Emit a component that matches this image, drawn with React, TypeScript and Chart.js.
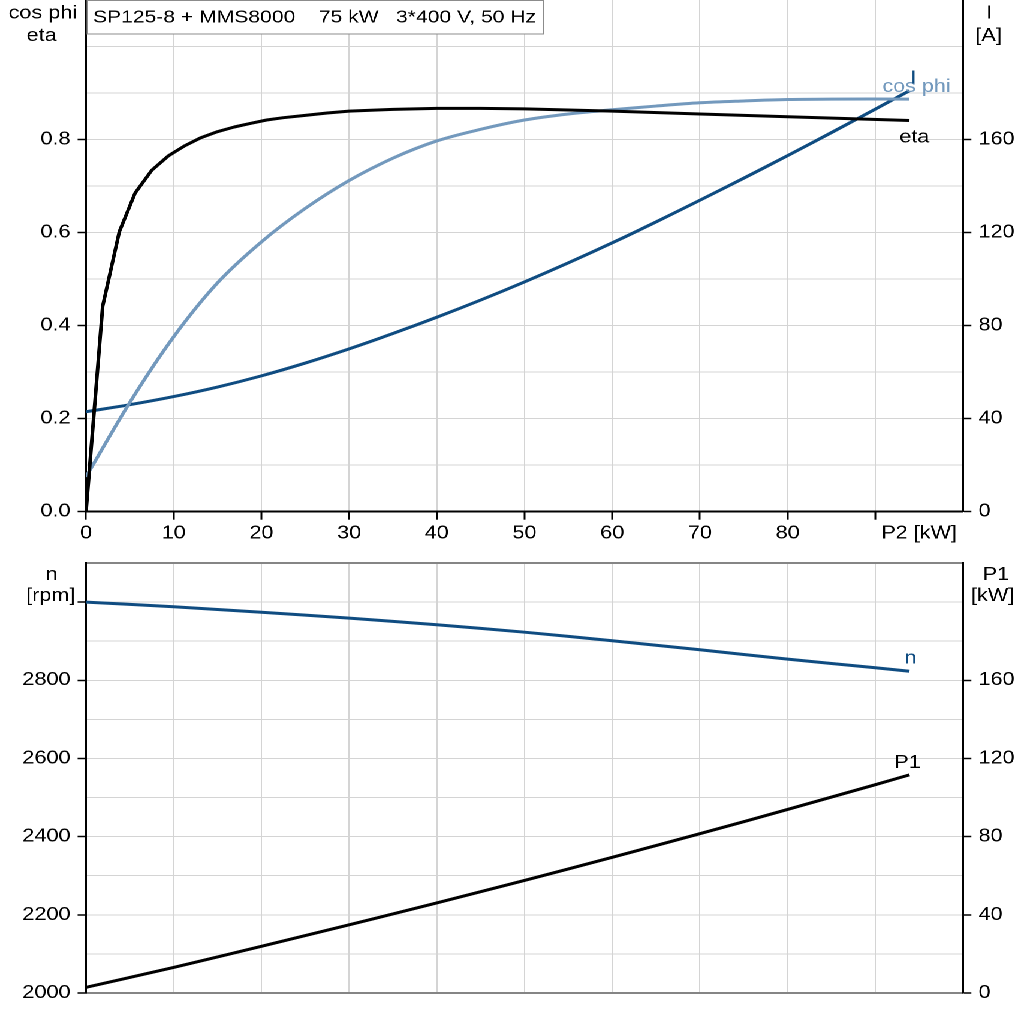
import React, { useEffect, useRef } from 'react';
import { Chart, registerables } from 'chart.js';

Chart.register(...registerables);

// ---------- data ----------
const P2_ETA = [0, 1.9, 3.8, 5.6, 7.5, 9.4, 11.3, 13.1, 15, 16.9, 18.8, 20.6, 22.5, 25, 27.5, 30, 35, 40, 45, 50, 60, 70, 80, 93.9];
const ETA = [0, 0.442, 0.602, 0.685, 0.734, 0.765, 0.787, 0.804, 0.817, 0.827, 0.835, 0.842, 0.847, 0.852, 0.857, 0.861, 0.865, 0.867, 0.867, 0.866, 0.861, 0.855, 0.849, 0.841];

const P2_COS = [0, 5, 10, 15, 20, 25, 30, 35, 40, 45, 50, 55, 60, 65, 70, 75, 80, 85, 93.9];
const COS_PHI = [0.075, 0.235, 0.376, 0.492, 0.58, 0.652, 0.712, 0.76, 0.797, 0.822, 0.842, 0.855, 0.864, 0.872, 0.879, 0.883, 0.886, 0.887, 0.887];

const P2_I = [0, 5, 10, 15, 20, 25, 30, 35, 40, 45, 50, 55, 60, 65, 70, 75, 80, 85, 90, 93.9];
const CURRENT = [43, 46, 49.5, 53.6, 58.4, 63.9, 70, 76.6, 83.6, 91, 98.8, 107, 115.6, 124.6, 133.9, 143.4, 153.1, 163, 173.1, 181];

const P2_N = [0, 10, 20, 30, 40, 50, 60, 70, 80, 90, 93.9];
const SPEED = [3000, 2988, 2974, 2959, 2942, 2923, 2901, 2878, 2854, 2832, 2823];

const P2_P1 = [0, 10, 20, 30, 40, 50, 60, 70, 80, 90, 93.9];
const P1 = [2.9, 13.1, 23.9, 34.9, 46.1, 57.6, 69.4, 81.5, 93.9, 106.6, 111.6];

const X_TICKS = [0, 10, 20, 30, 40, 50, 60, 70, 80, 90, 95, 100];
const X_LABEL_NAME = 'P2 [kW]';
const TITLE = 'SP125-8 + MMS8000    75 kW   3*400 V, 50 Hz';

// ---------- styles ----------
const SX = 1024 / 854;
const W = 854;
const TOP_H = 545;
const BOT_H = 479;
const FONT = '"Liberation Sans", Arial, Helvetica, sans-serif';
const FS = 18;
const TITLE_FS = 17.6;
const DARK_BLUE = '#0f4c81';
const LIGHT_BLUE = '#7399bd';
const GRID = '#d4d4d4';
const AXIS_GRAY = '#858585';

Chart.defaults.font.family = FONT;
Chart.defaults.font.size = FS;
Chart.defaults.color = '#000';

const pts = (xs: number[], ys: number[]) => xs.map((x, i) => ({ x, y: ys[i] }));

const END_LABELS: Record<string, { text: string; color: string; dx: number; dy: number }> = {
  eta: { text: 'eta', color: '#000', dx: 5, dy: 22 },
  cosphi: { text: 'cos phi', color: LIGHT_BLUE, dx: 7, dy: -7 },
  I: { text: 'I', color: DARK_BLUE, dx: 4, dy: -7 },
  n: { text: 'n', color: DARK_BLUE, dx: 1, dy: -8 },
  P1: { text: 'P1', color: '#000', dx: -2, dy: -7 },
};

const endLabelPlugin = {
  id: 'endLabels',
  afterDatasetsDraw(chart: any) {
    const ctx = chart.ctx;
    ctx.save();
    ctx.font = `${FS}px ${FONT}`;
    ctx.textAlign = 'center';
    ctx.textBaseline = 'alphabetic';
    chart.data.datasets.forEach((ds: any, i: number) => {
      const spec = END_LABELS[ds.label];
      if (!spec) return;
      const meta = chart.getDatasetMeta(i);
      const last = meta.data[meta.data.length - 1];
      ctx.fillStyle = spec.color;
      ctx.fillText(spec.text, last.x + spec.dx / SX, last.y + spec.dy);
    });
    ctx.restore();
  },
};

const lineDs = (label: string, data: any[], color: string, axis: string, tension: number) => ({
  label,
  data,
  borderColor: color,
  backgroundColor: color,
  borderWidth: 3,
  pointRadius: 0,
  fill: false,
  tension,
  borderJoinStyle: 'round' as const,
  yAxisID: axis,
});

const fixV = (w: number) => (s: any) => {
  s.width = w;
  s.paddingTop = 0;
  s.paddingBottom = 0;
};
const fixH = (h: number) => (s: any) => {
  s.height = h;
  s.paddingLeft = 0;
  s.paddingRight = 0;
};

function topConfig(): any {
  const r10 = (v: number) => Math.round(v * 10);
  const leftLabeled = (v: number) => r10(v) % 2 === 0 && r10(v) <= 8;
  const rightLabeled = (v: number) => Math.round(v) % 40 === 0 && v <= 160;
  return {
    type: 'line',
    data: {
      datasets: [
        lineDs('eta', pts(P2_ETA, ETA), '#000', 'y', 0),
        lineDs('cosphi', pts(P2_COS, COS_PHI), LIGHT_BLUE, 'y', 0.35),
        lineDs('I', pts(P2_I, CURRENT), DARK_BLUE, 'y1', 0.35),
      ],
    },
    options: {
      responsive: false,
      animation: false,
      devicePixelRatio: 2,
      layout: { padding: 0 },
      plugins: { legend: { display: false }, tooltip: { enabled: false } },
      scales: {
        x: {
          type: 'linear',
          min: 0,
          max: 100,
          afterBuildTicks: (s: any) => {
            s.ticks = X_TICKS.map((v) => ({ value: v }));
          },
          afterFit: fixH(TOP_H - 511.7),
          border: { color: '#000', width: 2 },
          grid: {
            color: (c: any) => {
              const v = c.tick ? c.tick.value : -1;
              return v === 0 || v === 95 || v === 100 ? 'transparent' : GRID;
            },
            lineWidth: 1,
            tickLength: 8,
            tickWidth: 1.5,
            tickColor: (c: any) => (c.tick && c.tick.value <= 90 ? '#000' : 'transparent'),
          },
          ticks: {
            autoSkip: false,
            maxRotation: 0,
            minRotation: 0,
            padding: 3,
            callback: (v: number) => (v <= 80 ? String(v) : v === 95 ? X_LABEL_NAME : ''),
          },
        },
        y: {
          position: 'left',
          min: 0,
          max: 1.1,
          afterFit: fixV(86 / SX),
          border: { color: '#000', width: 2 },
          grid: {
            color: (c: any) => {
              const r = c.tick ? r10(c.tick.value) : -1;
              return r === 0 || r === 11 ? 'transparent' : GRID;
            },
            lineWidth: 1,
            tickLength: 7,
            tickWidth: 1.5,
            tickColor: (c: any) => (c.tick && leftLabeled(c.tick.value) ? '#000' : 'transparent'),
          },
          ticks: {
            stepSize: 0.1,
            padding: 6,
            callback: (v: number) => (leftLabeled(v) ? (r10(v) / 10).toFixed(1) : ''),
          },
        },
        y1: {
          position: 'right',
          min: 0,
          max: 220,
          afterFit: fixV(61 / SX),
          border: { color: '#000', width: 2 },
          grid: {
            drawOnChartArea: false,
            tickLength: 7,
            tickWidth: 1.5,
            tickColor: (c: any) => (c.tick && rightLabeled(c.tick.value) ? '#000' : 'transparent'),
          },
          ticks: {
            stepSize: 20,
            padding: 6,
            callback: (v: number) => (rightLabeled(v) ? String(Math.round(v)) : ''),
          },
        },
      },
    },
    plugins: [
      endLabelPlugin,
      {
        id: 'topDecor',
        afterDraw(chart: any) {
          const ctx = chart.ctx;
          const a = chart.chartArea;
          ctx.save();
          const bw = (542 - 86) / SX;
          ctx.fillStyle = '#fff';
          ctx.fillRect(a.left + 1, 0, bw, 34);
          ctx.strokeStyle = '#8c8c8c';
          ctx.lineWidth = 1;
          ctx.strokeRect(a.left + 1, 0.5, bw, 33.5);
          ctx.font = `${TITLE_FS}px ${FONT}`;
          ctx.fillStyle = '#000';
          ctx.textBaseline = 'alphabetic';
          ctx.textAlign = 'left';
          ctx.fillText(TITLE, 93 / SX, 22.5);
          ctx.font = `${FS}px ${FONT}`;
          ctx.textAlign = 'center';
          ctx.fillText('cos phi', 42.8 / SX, 18.5);
          ctx.fillText('eta', 41.6 / SX, 41);
          ctx.fillText('I', 989.3 / SX, 18.5);
          ctx.fillText('[A]', 988.7 / SX, 41);
          ctx.restore();
        },
      },
    ],
  };
}

function botConfig(): any {
  const leftLabeled = (v: number) => Math.round(v) % 200 === 0 && v <= 2800;
  const leftMark = (v: number) => Math.round(v) % 200 === 0 && v <= 3000;
  const rightLabeled = (v: number) => Math.round(v) % 40 === 0 && v <= 160;
  return {
    type: 'line',
    data: {
      datasets: [
        lineDs('n', pts(P2_N, SPEED), DARK_BLUE, 'y', 0.3),
        lineDs('P1', pts(P2_P1, P1), '#000', 'y1', 0.3),
      ],
    },
    options: {
      responsive: false,
      animation: false,
      devicePixelRatio: 2,
      layout: { padding: { top: 563 - TOP_H, left: 0, right: 0, bottom: 0 } },
      plugins: { legend: { display: false }, tooltip: { enabled: false } },
      scales: {
        x: {
          type: 'linear',
          min: 0,
          max: 100,
          afterFit: fixH(1024 - 993),
          border: { color: AXIS_GRAY, width: 2 },
          grid: {
            color: (c: any) => {
              const v = c.tick ? c.tick.value : -1;
              return v === 0 || v === 100 ? 'transparent' : GRID;
            },
            lineWidth: 1,
            drawTicks: false,
          },
          ticks: { display: false, stepSize: 10 },
        },
        y: {
          position: 'left',
          min: 2000,
          max: 3100,
          afterFit: fixV(86 / SX),
          border: { color: '#000', width: 2 },
          grid: {
            color: (c: any) => {
              const v = c.tick ? Math.round(c.tick.value) : -1;
              return v === 3100 ? AXIS_GRAY : v === 2000 ? 'transparent' : GRID;
            },
            lineWidth: (c: any) => (c.tick && Math.round(c.tick.value) === 3100 ? 2 : 1),
            tickLength: 7,
            tickWidth: 1.5,
            tickColor: (c: any) => (c.tick && leftMark(c.tick.value) ? '#000' : 'transparent'),
          },
          ticks: {
            stepSize: 100,
            padding: 6,
            callback: (v: number) => (leftLabeled(v) ? String(Math.round(v)) : ''),
          },
        },
        y1: {
          position: 'right',
          min: 0,
          max: 220,
          afterFit: fixV(61 / SX),
          border: { color: '#000', width: 2 },
          grid: {
            drawOnChartArea: false,
            tickLength: 7,
            tickWidth: 1.5,
            tickColor: (c: any) => (c.tick && rightLabeled(c.tick.value) ? '#000' : 'transparent'),
          },
          ticks: {
            stepSize: 20,
            padding: 6,
            callback: (v: number) => (rightLabeled(v) ? String(Math.round(v)) : ''),
          },
        },
      },
    },
    plugins: [
      endLabelPlugin,
      {
        id: 'botDecor',
        afterDraw(chart: any) {
          const ctx = chart.ctx;
          ctx.save();
          ctx.font = `${FS}px ${FONT}`;
          ctx.fillStyle = '#000';
          ctx.textBaseline = 'alphabetic';
          ctx.textAlign = 'center';
          ctx.fillText('n', 51.6 / SX, 580 - TOP_H);
          ctx.fillText('[rpm]', 50.6 / SX, 601 - TOP_H);
          ctx.fillText('P1', 996 / SX, 580 - TOP_H);
          ctx.fillText('[kW]', 992.7 / SX, 601 - TOP_H);
          ctx.restore();
        },
      },
    ],
  };
}

export default function App() {
  const topRef = useRef<HTMLCanvasElement>(null);
  const botRef = useRef<HTMLCanvasElement>(null);

  useEffect(() => {
    const c1 = new Chart(topRef.current as HTMLCanvasElement, topConfig());
    const c2 = new Chart(botRef.current as HTMLCanvasElement, botConfig());
    return () => {
      c1.destroy();
      c2.destroy();
    };
  }, []);

  return (
    <div
      style={{
        position: 'absolute',
        left: 0,
        top: 0,
        width: 1024,
        height: 1024,
        background: '#fff',
        overflow: 'hidden',
      }}
    >
      <div
        style={{
          position: 'absolute',
          left: 0,
          top: 0,
          width: W,
          height: 1024,
          transform: `scaleX(${SX})`,
          transformOrigin: '0 0',
        }}
      >
        <canvas
          ref={topRef}
          width={W}
          height={TOP_H}
          style={{ position: 'absolute', left: 0, top: 0, width: W, height: TOP_H }}
        />
        <canvas
          ref={botRef}
          width={W}
          height={BOT_H}
          style={{ position: 'absolute', left: 0, top: TOP_H, width: W, height: BOT_H }}
        />
      </div>
    </div>
  );
}
